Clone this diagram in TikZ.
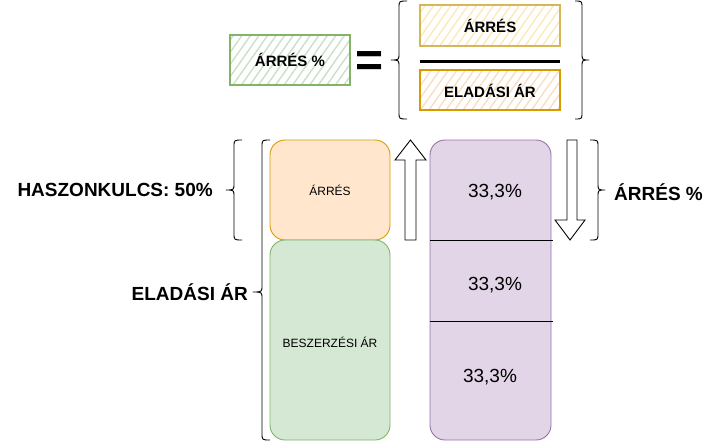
\documentclass[tikz,border=0pt]{standalone}
\usepackage{fontspec}
\setmainfont{Liberation Sans}
\usetikzlibrary{patterns.meta}
\definecolor{orfill}{HTML}{FFE6CC}
\definecolor{orline}{HTML}{D79B00}
\definecolor{grfill}{HTML}{D5E8D4}
\definecolor{grline}{HTML}{82B366}
\definecolor{pufill}{HTML}{E1D5E7}
\definecolor{puline}{HTML}{9673A6}
\definecolor{yeline}{HTML}{D6B656}
\definecolor{grhatch}{HTML}{C9E0C7}
\definecolor{yehatch}{HTML}{FCE9B8}
\definecolor{orhatch}{HTML}{FBDDBF}
\tikzset{
  hatchbox/.style={draw=#1, line width=1.2pt, inner sep=0pt},
  bigbold/.style={font=\fontsize{19}{22}\selectfont\bfseries, inner sep=0pt},
  mid/.style={font=\fontsize{15}{18}\selectfont\bfseries, inner sep=0pt},
  small/.style={font=\fontsize{12}{14}\selectfont, inner sep=0pt},
  pct/.style={font=\fontsize{19}{22}\selectfont, inner sep=0pt},
  bracestyle/.style={line width=0.9pt, line join=round},
  blockarrow/.style={draw=black, fill=white, line width=0.9pt, line join=miter},
  roundbox/.style={rounded corners=15pt, line width=0.9pt, inner sep=0pt}
}
% brace: #1 end x, #2 vertical x, #3 tip x, #4 top y, #5 tip y, #6 bottom y
\newcommand\mybrace[6]{%
  \draw[bracestyle] (#1,#4) .. controls (#2,#4) .. (#2,#4+7) -- (#2,#5-7)
    .. controls (#2,#5) .. (#3,#5) .. controls (#2,#5) .. (#2,#5+7)
    -- (#2,#6-7) .. controls (#2,#6) .. (#1,#6);}
\begin{document}
\begin{tikzpicture}[x=1pt,y=-1pt]
\useasboundingbox (0,0) rectangle (711,442);

% ---------- top formula ----------
\fill[pattern={Lines[angle=55,distance=7pt,line width=1.4pt]}, pattern color=grhatch] (230,35) rectangle (350,85);
\node[hatchbox=grline, minimum width=120pt, minimum height=50pt] (pctbox) at (290,60) {};
\node[mid] (pcttxt) at (290,60) {ÁRRÉS \%};

\node[font=\fontsize{48}{50}\selectfont\bfseries, inner sep=0pt, anchor=base] (eq) at (370,76) {=};

\mybrace{407}{399}{391}{1}{60}{119}

\fill[pattern={Lines[angle=55,distance=7pt,line width=1.4pt]}, pattern color=yehatch] (420,5) rectangle (560,46);
\node[hatchbox=yeline, minimum width=140pt, minimum height=41pt] (numbox) at (490,25.5) {};
\node[mid] (numtxt) at (490,26) {ÁRRÉS};

\coordinate (fracL) at (420,61);
\coordinate (fracR) at (560,61);
\draw[line width=3pt] (fracL) -- (fracR);

\fill[pattern={Lines[angle=55,distance=7pt,line width=1.4pt]}, pattern color=orhatch] (420,70) rectangle (560,110);
\node[hatchbox=orline, minimum width=140pt, minimum height=40pt] (denbox) at (490,90) {};
\node[mid] (dentxt) at (490,91) {ELADÁSI ÁR};

\mybrace{575}{582}{589}{1}{60}{119}

% ---------- bottom ----------
\node[roundbox, draw=orline, fill=orfill, minimum width=120pt, minimum height=100pt] (arres) at (330,190) {};
\node[small] at (arres.center) {ÁRRÉS};
\node[roundbox, draw=grline, fill=grfill, minimum width=120pt, minimum height=200pt] (besz) at (330,340) {};
\node[small] at ([yshift=-2pt]besz.center) {BESZERZÉSI ÁR};

\node[roundbox, draw=puline, fill=pufill, minimum width=121pt, minimum height=300pt] (purple) at (490.5,290) {};
\coordinate (l1a) at (430,240); \coordinate (l1b) at (553,240);
\coordinate (l2a) at (430,321); \coordinate (l2b) at (553,321);
\draw[line width=0.8pt] (l1a) -- (l1b);
\draw[line width=0.8pt] (l2a) -- (l2b);
\node[pct] (p1) at (495,192) {33,3\%};
\node[pct] (p2) at (495,285) {33,3\%};
\node[pct] (p3) at (490,377) {33,3\%};

% up arrow
\draw[blockarrow] (405,240) -- (405,160) -- (395,160) -- (410.5,140) -- (426,160) -- (416,160) -- (416,240) -- cycle;
% down arrow
\draw[blockarrow] (567,140) -- (577,140) -- (577,220) -- (585,220) -- (570,240) -- (555,220) -- (567,220) -- cycle;

% braces
\mybrace{242}{234}{226}{140}{190}{240}
\mybrace{270}{262}{253}{140}{292}{440}
\mybrace{590}{598}{605}{140}{190}{240}

\node[bigbold, anchor=east] (hk) at (213,190) {HASZONKULCS: 50\%};
\node[bigbold, anchor=east] (el) at (248,292) {ELADÁSI ÁR};
\node[bigbold, anchor=west] (ap) at (614,192) {ÁRRÉS \%};
\end{tikzpicture}
\end{document}
